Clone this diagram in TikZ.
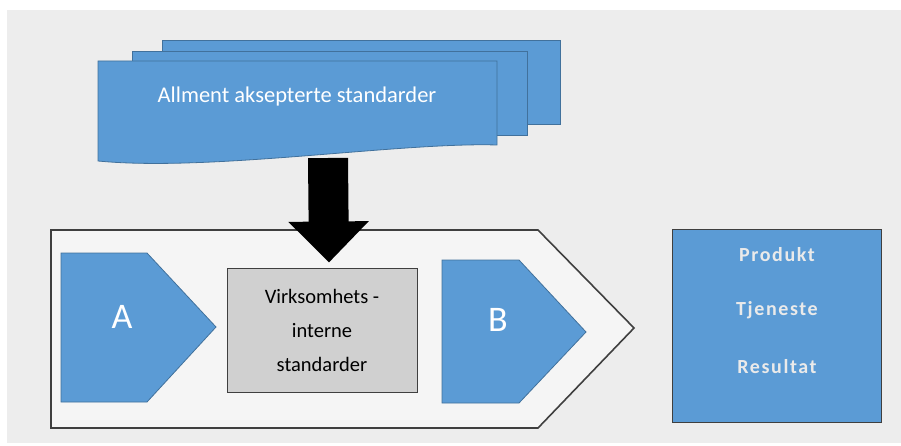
\documentclass[tikz,border=0pt]{standalone}
\usepackage{fontspec}
\setmainfont{Carlito}
\usepackage{xcolor}
\usetikzlibrary{arrows.meta}
\definecolor{officeblue}{HTML}{5B9BD5}
\definecolor{blueedge}{HTML}{41719C}
\definecolor{bggray}{HTML}{EDEDED}
\definecolor{framefill}{HTML}{F5F5F5}
\definecolor{boxgray}{HTML}{D0D0D0}
\definecolor{darkedge}{HTML}{3F3F3F}
\definecolor{softwhite}{HTML}{EAEAEA}

\begin{document}
\begin{tikzpicture}[x=1pt, y=-1pt,
  sheet/.style={fill=officeblue, draw=blueedge, line width=0.8pt},
  label/.style={text=white, font=\fontsize{36}{36}\selectfont},
  frame/.style={fill=framefill, draw=darkedge, line width=1.6pt},
  intbox/.style={fill=boxgray, draw=darkedge, line width=1pt,
              minimum width=190pt, minimum height=124pt,
              align=center, font=\fontsize{20.5}{34}\selectfont},
  resline/.style={text=softwhite, font=\bfseries\fontsize{20}{20}\selectfont\addfontfeature{LetterSpace=8}},
  fatarr/.style={line width=40pt, -{Triangle[width=78pt,length=41pt]}}
]
% background
\fill[white] (0,0) rectangle (901,446);
\fill[bggray] (7,10) rectangle (901,443);
\useasboundingbox (0,0) rectangle (901,446);
% stacked documents
\draw[sheet] (162,40) rectangle (560,124);
\draw[sheet] (132,51) rectangle (527,135);
\draw[sheet] (98,61) -- (497,61) -- (497,145)
  .. controls (400,142) and (210,172) .. (98,161) -- cycle;
\node[text=white, font=\fontsize{22.5}{22.5}\selectfont] (allment) at (297,97) {Allment aksepterte standarder};
\coordinate (arrtop) at (328,158);
% outer process arrow
\draw[frame] (51,230) -- (538,230) -- (634,328) -- (538,428) -- (51,428) -- cycle;
\draw[sheet] (61,253) -- (147,253) -- (216,327) -- (147,402) -- (61,402) -- cycle;
\node[label] (a) at (122,317) {A};
\node[intbox] (intern) at (322,330) {Virksomhets -\\interne\\standarder};
\draw[sheet] (442,260) -- (519,260) -- (586,332) -- (519,403) -- (442,403) -- cycle;
\node[label] (b) at (498,320) {B};
\coordinate (arrtip) at ([xshift=7pt,yshift=5pt]intern.north);
\draw[fatarr] (arrtop) -- (arrtip);
% result box
\node[sheet, draw=darkedge, minimum width=209pt, minimum height=193pt] (res) at (777,326) {};
\node[resline] (prod) at (777,255) {Produkt};
\node[resline] (tjen) at (777,310) {Tjeneste};
\node[resline] (resu) at (777,367) {Resultat};
\end{tikzpicture}
\end{document}
